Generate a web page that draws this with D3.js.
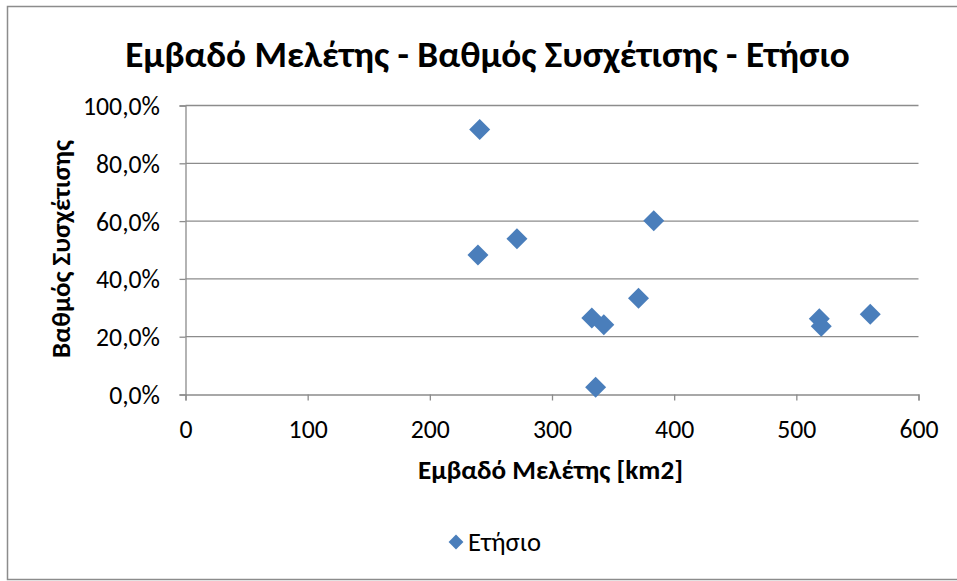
<!DOCTYPE html>
<html><head><meta charset="utf-8">
<script src="https://cdn.jsdelivr.net/npm/d3@7"></script>
<style>body{margin:0;background:#fff}svg{display:block}text{font-family:Carlito,"Open Sans",sans-serif}</style>
</head><body>
<svg id="c" width="957" height="581"></svg>
<script>
const title = "Εμβαδό Μελέτης - Βαθμός Συσχέτισης - Ετήσιο";
const xTitle = "Εμβαδό Μελέτης [km2]";
const yTitle = "Βαθμός Συσχέτισης";
const seriesName = "Ετήσιο";
const areaKm2 = [240.8, 239.4, 271.3, 383.3, 370.8, 332.6, 342.4, 335.7, 518.8, 520.4, 560.5];
const correlation = [0.917, 0.483, 0.539, 0.601, 0.333, 0.265, 0.241, 0.025, 0.262, 0.236, 0.278];
const xTicks = [0, 100, 200, 300, 400, 500, 600];
const yTicks = [0, 0.2, 0.4, 0.6, 0.8, 1.0];

const FONT = 'Carlito, "Open Sans", sans-serif';
const svg = d3.select("#c");
const color = "#4a7ebb";
const gray = "#8c8c8c";
svg.append("rect").attr("x",7.5).attr("y",6.5).attr("width",960).attr("height",573)
  .attr("fill","#fff").attr("stroke",gray).attr("stroke-width",1.5);

const x = d3.scaleLinear().domain([0,600]).range([185.5,918.5]);
const y = d3.scaleLinear().domain([0,1]).range([394.5,105.5]);
const fmtY = v => d3.format(".1f")(v*100).replace(".", ",") + "%";

// measure helper: font size so that the text reaches a target width
function fitSize(str, weight, target){
  const t = svg.append("text").style("font-family",FONT).style("font-weight",weight)
    .style("font-size","100px").text(str);
  const w = t.node().getComputedTextLength(); t.remove();
  return 100*target/w;
}
const tickSize = fitSize("100,0%", "normal", 77);

svg.append("g").selectAll("line").data(yTicks.filter(d=>d>0)).join("line")
  .attr("x1",x(0)).attr("x2",x(600)).attr("y1",d=>y(d)).attr("y2",d=>y(d))
  .attr("stroke",gray).attr("stroke-width",1.3);

const xAxis = svg.append("g").attr("transform",`translate(0,${y(0)})`)
  .call(d3.axisBottom(x).tickValues(xTicks).tickSize(6).tickFormat(d3.format("d")));
const yAxis = svg.append("g").attr("transform",`translate(${x(0)},0)`)
  .call(d3.axisLeft(y).tickValues(yTicks).tickSize(6).tickPadding(19.5).tickFormat(fmtY));
[xAxis,yAxis].forEach(a=>{
  a.select(".domain").attr("stroke",gray).attr("stroke-width",1.3);
  a.selectAll(".tick line").attr("stroke",gray).attr("stroke-width",1.3);
  a.selectAll("text").attr("fill","#000").style("font-size",tickSize+"px").style("font-family",FONT);
});
xAxis.selectAll("text").attr("y",34.5).attr("dy","0.35em");
yAxis.selectAll("text").attr("dy","0.35em");

const diamond = d3.symbol().type(d3.symbolSquare).size(220);
svg.append("g").selectAll("path").data(areaKm2.map((a,i)=>[a,correlation[i]])).join("path")
  .attr("d",diamond).attr("fill",color)
  .attr("transform",d=>`translate(${x(d[0])},${y(d[1])}) rotate(45)`);

svg.append("text").attr("x",487.5).attr("y",54).attr("dy","0.35em").attr("text-anchor","middle")
  .style("font-size",fitSize(title,"bold",725)+"px").style("font-weight","bold").text(title);
svg.append("text").attr("x",550.5).attr("y",470).attr("dy","0.35em").attr("text-anchor","middle")
  .style("font-size",fitSize(xTitle,"bold",265)+"px").style("font-weight","bold").text(xTitle);
svg.append("text").attr("transform","translate(61,249) rotate(-90)").attr("dy","0.35em").attr("text-anchor","middle")
  .style("font-size",fitSize(yTitle,"bold",218)+"px").style("font-weight","bold").text(yTitle);

svg.append("path").attr("d",d3.symbol().type(d3.symbolSquare).size(110)())
  .attr("fill",color).attr("transform","translate(456,542) rotate(45)");
svg.append("text").attr("x",468).attr("y",542).attr("dy","0.35em")
  .style("font-size",fitSize(seriesName,"normal",73)+"px").text(seriesName);
</script>
</body></html>
